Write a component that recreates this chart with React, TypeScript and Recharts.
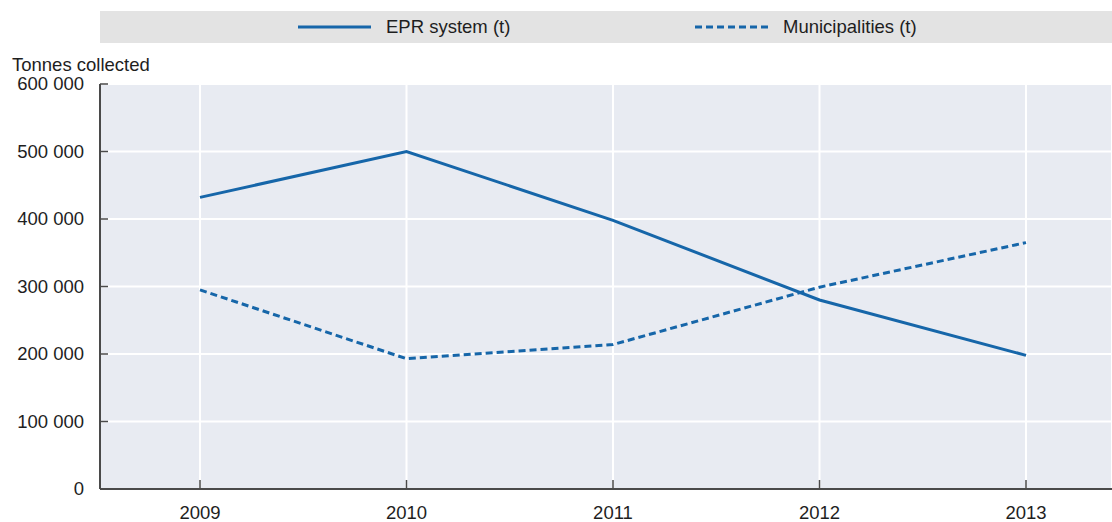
import React from 'react';
import { LineChart, Line, XAxis, YAxis, CartesianGrid, Label } from 'recharts';

const years = ['2009', '2010', '2011', '2012', '2013'];
const eprTonnes = [432000, 500000, 398000, 280000, 198000];
const municipalTonnes = [295000, 193000, 214000, 299000, 365000];
const yTicks = [0, 100000, 200000, 300000, 400000, 500000, 600000];

const chartData = years.map((year, i) => ({
  year,
  epr: eprTonnes[i],
  municipalities: municipalTonnes[i],
}));

const FONT = "'Liberation Sans', Arial, sans-serif";
const FS = 18.5;
const BLUE = '#1666a9';
const TEXT = '#1e1e1e';
const AXIS = '#4a4a4a';

const fmt = (v: number) => (v === 0 ? '0' : v.toLocaleString('en-US').replace(/,/g, ' '));

// ticks drawn by hand so the small tick marks point into the plot
function YTick(props: any) {
  const { x, y, payload } = props;
  return (
    <g>
      {payload.value !== 0 && <line x1={x + 16} x2={x + 24} y1={y} y2={y} stroke={AXIS} strokeWidth={1.5} />}
      <text x={x} y={y} dy="0.35em" textAnchor="end" fontFamily={FONT} fontSize={FS} fill={TEXT}>
        {fmt(payload.value)}
      </text>
    </g>
  );
}

function XTick(props: any) {
  const { x, y, payload } = props;
  return (
    <g>
      <line x1={x} x2={x} y1={y - 18} y2={y - 26} stroke={AXIS} strokeWidth={1.5} />
      <text x={x} y={y} dy="0.71em" textAnchor="middle" fontFamily={FONT} fontSize={FS} fill={TEXT}>
        {payload.value}
      </text>
    </g>
  );
}

function LegendBar() {
  const item = { display: 'flex', alignItems: 'center', position: 'absolute' as const, top: 0, height: 32 };
  const label = { fontFamily: FONT, fontSize: FS, color: TEXT, marginLeft: 15 };
  return (
    <div style={{ position: 'absolute', left: 100, top: 11, width: 1012, height: 32, background: '#e3e3e3' }}>
      <div style={{ ...item, left: 198 }}>
        <svg width={73} height={6}><line x1={0} x2={73} y1={3} y2={3} stroke={BLUE} strokeWidth={3} /></svg>
        <span style={label}>EPR system (t)</span>
      </div>
      <div style={{ ...item, left: 595 }}>
        <svg width={73} height={6}><line x1={0} x2={73} y1={3} y2={3} stroke={BLUE} strokeWidth={3} strokeDasharray="7 4" /></svg>
        <span style={label}>Municipalities (t)</span>
      </div>
    </div>
  );
}

export default function App() {
  return (
    <div style={{ position: 'fixed', left: 0, top: 0, width: 1112, height: 522, overflow: 'hidden', background: '#fff' }}>
      <LegendBar />
      <LineChart width={1112} height={522} data={chartData} margin={{ top: 84, right: 0, bottom: 0, left: 0 }}>
        <CartesianGrid fill="#e8ebf2" stroke="#ffffff" strokeWidth={2} />
        <XAxis
          dataKey="year"
          height={33}
          padding={{ left: 100, right: 86 }}
          axisLine={{ stroke: AXIS, strokeWidth: 2 }}
          tickLine={false}
          tickSize={0}
          tickMargin={17}
          tick={<XTick />}
        />
        <XAxis xAxisId="top" dataKey="year" orientation="top" height={0} tick={false} tickLine={false}
          axisLine={{ stroke: AXIS, strokeWidth: 2 }} padding={{ left: 100, right: 86 }} />
        <YAxis
          width={100}
          domain={[0, 600000]}
          ticks={yTicks}
          interval={0}
          axisLine={{ stroke: AXIS, strokeWidth: 2 }}
          tickLine={false}
          tickSize={0}
          tickMargin={16}
          tick={<YTick />}
        >
          <Label
            content={({ viewBox }: any) => (
              <text x={12} y={viewBox.y - 13} fontFamily={FONT} fontSize={FS} fill={TEXT}>
                Tonnes collected
              </text>
            )}
          />
        </YAxis>
        <Line type="linear" dataKey="epr" stroke={BLUE} strokeWidth={3} dot={false} isAnimationActive={false} />
        <Line type="linear" dataKey="municipalities" stroke={BLUE} strokeWidth={3} strokeDasharray="7 4" dot={false} isAnimationActive={false} />
      </LineChart>
    </div>
  );
}
